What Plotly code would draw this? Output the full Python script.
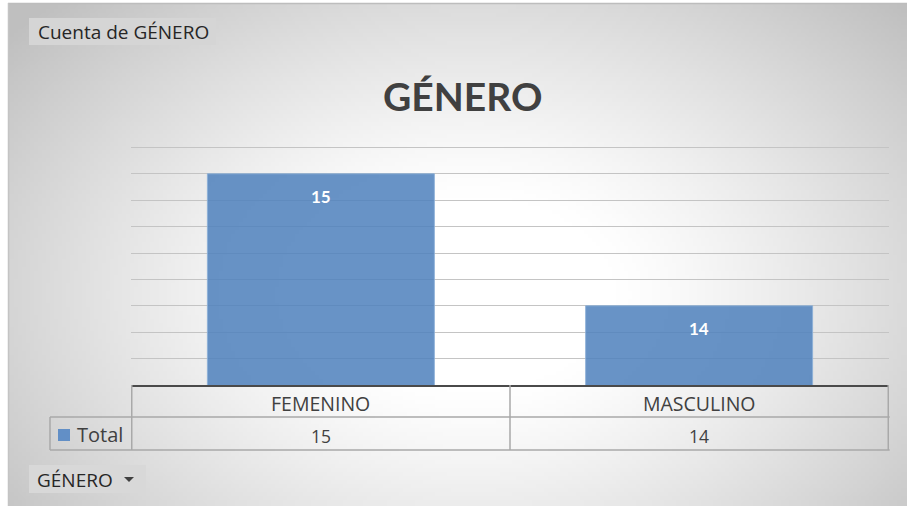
import base64
import struct
import zlib

import numpy as np
import plotly.graph_objects as go

# ---- data ----
categories = ["FEMENINO", "MASCULINO"]
values = [15, 14]
series_name = "Total"
chart_title = "GÉNERO"
value_field_button = "Cuenta de GÉNERO"
axis_field_button = "GÉNERO"

W, H = 907, 506
BAR_COLOR = "rgba(79,129,189,0.86)"
TEXT_COLOR = "#404040"
GRID_COLOR = "#c4c4c4"
TABLE_LINE = "#a9a9a9"
TITLE_FONT = "Lato"
FONT = "Open Sans"


def px(x):
    return x / W


def py(y):
    return 1 - y / H


def radial_background(w, h, scale):
    """Light radial gradient (white centre, grey edges) encoded as PNG."""
    gw, gh = w // scale, h // scale
    yy, xx = np.mgrid[0:gh, 0:gw].astype(float)
    xx = xx * scale + 8
    yy = yy * scale + 3
    t = np.sqrt(((xx - 470) / 480) ** 2 + ((yy - 290) / 330) ** 2)
    k = np.clip((t - 0.3) / 0.95, 0, 1) ** 1.2
    v = (255 - 64 * k).astype(np.uint8)
    rgb = np.stack([v, v, v], axis=-1)
    raw = b"".join(b"\x00" + rgb[r].tobytes() for r in range(gh))

    def chunk(tag, data):
        c = struct.pack(">I", len(data)) + tag + data
        return c + struct.pack(">I", zlib.crc32(tag + data) & 0xFFFFFFFF)

    png = b"\x89PNG\r\n\x1a\n"
    png += chunk(b"IHDR", struct.pack(">IIBBBBB", gw, gh, 8, 2, 0, 0, 0))
    png += chunk(b"IDAT", zlib.compress(raw, 9))
    png += chunk(b"IEND", b"")
    return "data:image/png;base64," + base64.b64encode(png).decode()


fig = go.Figure()

fig.add_trace(
    go.Bar(
        x=categories,
        y=values,
        base=0,
        name=series_name,
        marker=dict(color=BAR_COLOR, line=dict(color="rgba(140,175,215,0.9)", width=1)),
        width=0.6,
        hoverinfo="x+y",
    )
)

# plot area: x 131..889 px; y axis 13.4 at 385 px, 132 px per unit
Y_MIN, Y_MAX = 13.4, 15.25
fig.update_layout(
    width=W,
    height=H,
    margin=dict(l=0, r=0, t=0, b=0),
    paper_bgcolor="white",
    plot_bgcolor="rgba(0,0,0,0)",
    showlegend=False,
    font=dict(family=FONT, color=TEXT_COLOR),
    xaxis=dict(
        domain=[px(131), px(889)],
        showticklabels=False,
        showgrid=False,
        zeroline=False,
        showline=True,
        linecolor="#4a4a4a",
        linewidth=2,
        ticks="",
        fixedrange=True,
    ),
    yaxis=dict(
        domain=[py(385), py(385 - (Y_MAX - Y_MIN) * 132)],
        range=[Y_MIN, Y_MAX],
        dtick=0.2,
        tick0=13.4,
        showticklabels=False,
        showgrid=True,
        gridcolor=GRID_COLOR,
        gridwidth=1,
        zeroline=False,
        showline=False,
        ticks="",
        fixedrange=True,
    ),
)

# background fill of the chart area
fig.add_layout_image(
    dict(
        source=radial_background(W - 8, H - 3, 4),
        xref="paper",
        yref="paper",
        x=px(8),
        y=py(3),
        sizex=px(W - 8),
        sizey=(H - 3) / H,
        sizing="stretch",
        layer="below",
    )
)

shapes = []
# chart-area border
shapes.append(dict(type="line", xref="paper", yref="paper", x0=px(8), x1=1, y0=py(3.5), y1=py(3.5),
                   line=dict(color="#bdbdbd", width=1.5)))
shapes.append(dict(type="line", xref="paper", yref="paper", x0=px(8.5), x1=px(8.5), y0=0, y1=py(3),
                   line=dict(color="#c4c4c4", width=1.5)))

# data table below the axis
row1_top, row_mid, row_bot = 385, 417, 450
boundaries = [i - 0.5 for i in range(len(categories) + 1)]
for b in boundaries:
    shapes.append(dict(type="line", xref="x", yref="paper", x0=b, x1=b,
                       y0=py(row_bot), y1=py(row1_top), line=dict(color=TABLE_LINE, width=1.5)))
shapes.append(dict(type="line", xref="paper", yref="paper", x0=px(50), x1=px(50),
                   y0=py(row_bot), y1=py(row_mid), line=dict(color=TABLE_LINE, width=1.5)))
for yline in (row_mid, row_bot):
    shapes.append(dict(type="line", xref="paper", yref="paper", x0=px(50), x1=px(889.7),
                       y0=py(yline), y1=py(yline), line=dict(color=TABLE_LINE, width=1.5)))
# legend key
shapes.append(dict(type="rect", xref="paper", yref="paper", x0=px(58), x1=px(70),
                   y0=py(441), y1=py(429), fillcolor="rgb(98,143,198)", line=dict(width=0)))

# field buttons
shapes.append(dict(type="rect", xref="paper", yref="paper", x0=px(29), x1=px(216),
                   y0=py(45), y1=py(18), fillcolor="#d5d5d5", line=dict(width=0), layer="below"))
shapes.append(dict(type="rect", xref="paper", yref="paper", x0=px(29), x1=px(146),
                   y0=py(493), y1=py(465), fillcolor="#d8d8d8", line=dict(width=0), layer="below"))
shapes.append(dict(type="path", xref="paper", yref="paper",
                   path=f"M {px(124)},{py(477)} L {px(134)},{py(477)} L {px(129)},{py(482)} Z",
                   fillcolor="#404040", line=dict(width=0)))
fig.update_layout(shapes=shapes)


def label(text, x, y, size, color=TEXT_COLOR, xanchor="center", family=FONT, **kw):
    return dict(text=text, x=x, y=y, xanchor=xanchor, yanchor="middle", showarrow=False,
                font=dict(size=size, color=color, family=family), **kw)


annotations = [
    label(f"<b>{chart_title}</b>", px(462), py(96), 39, family=TITLE_FONT,
          xref="paper", yref="paper"),
    label(value_field_button, px(123), py(32), 19, color="#262626", xref="paper", yref="paper"),
    label(axis_field_button, px(35), py(480), 19, color="#262626", xanchor="left",
          xref="paper", yref="paper"),
    label(series_name, px(75), py(434), 20, xanchor="left", xref="paper", yref="paper"),
]
for cat, val in zip(categories, values):
    # value labels inside the bars
    annotations.append(label(f"<b>{val}</b>", cat, val, 17, color="white", family=TITLE_FONT,
                             xref="x", yref="y", yshift=-23))
    # table cells
    annotations.append(label(cat, cat, py(403), 19.5, xref="x", yref="paper"))
    annotations.append(label(str(val), cat, py(436), 17.5, xref="x", yref="paper"))
fig.update_layout(annotations=annotations)

fig.write_html("out.html")
